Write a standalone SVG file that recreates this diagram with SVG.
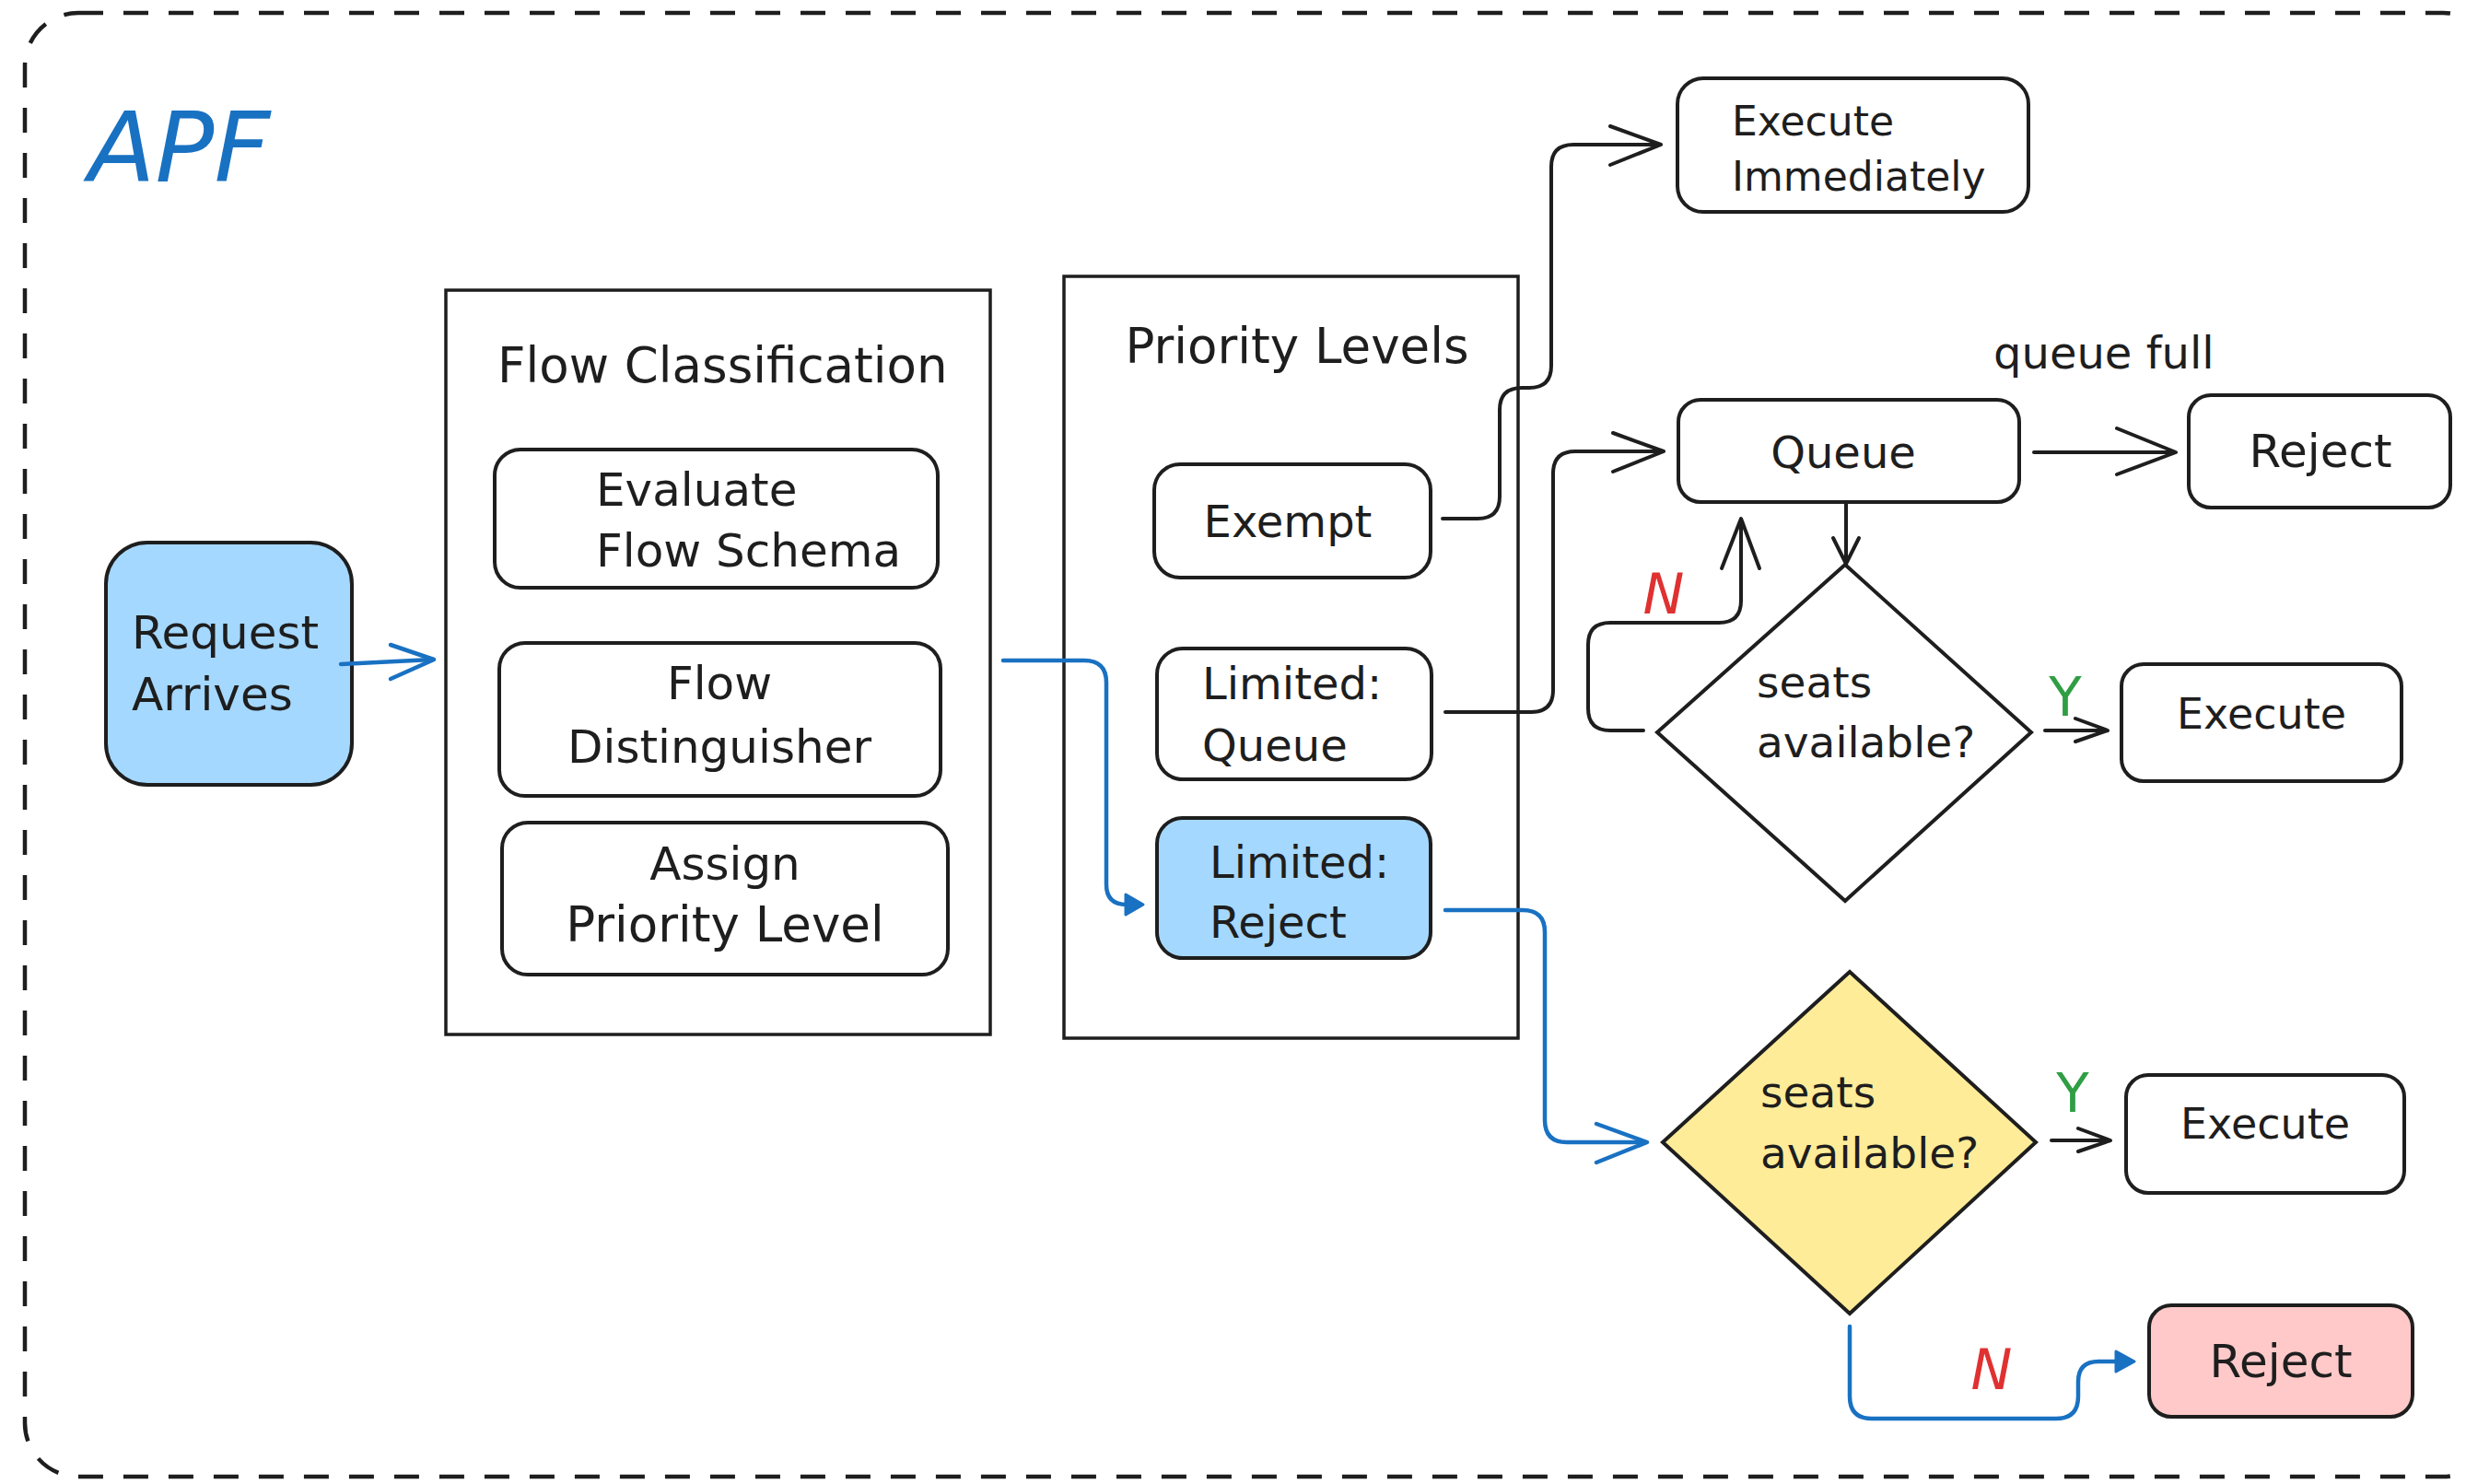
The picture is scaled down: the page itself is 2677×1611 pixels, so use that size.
<svg xmlns="http://www.w3.org/2000/svg" width="2677" height="1611" viewBox="0 0 2677 1611">
<style>
text{font-family:"DejaVu Sans","Liberation Sans",sans-serif;fill:#1e1e1e;font-size:50px}
.c{text-anchor:middle}
.t53{font-size:53px}
.t48{font-size:48px}
.t47{font-size:47px}
.t46{font-size:46px}
.t44{font-size:44px}
.yes{font-size:58px;fill:#2f9e44}
.no{font-size:60px;fill:#e03131;font-style:italic}
.box{fill:#fff;stroke:#1e1e1e;stroke-width:4}
.cont{fill:none;stroke:#1e1e1e;stroke-width:3.5}
.ln{fill:none;stroke:#1e1e1e;stroke-width:4;stroke-linecap:round;stroke-linejoin:round}
.bl{fill:none;stroke:#1971c2;stroke-width:4.5;stroke-linecap:round;stroke-linejoin:round}
.diam{stroke:#1e1e1e;stroke-width:4;stroke-linejoin:miter}
</style>
<rect x="27" y="14" width="2683" height="1589" rx="58" fill="none" stroke="#1e1e1e" stroke-width="4.5" stroke-dasharray="27 22"/>
<text x="96" y="197" style="font-size:106px;font-style:italic;fill:#1971c2">APF</text>

<g id="request-arrives">
<rect x="115" y="589" width="267" height="263" rx="45" class="box" style="fill:#a5d8ff"/>
<text x="143" y="704">Request</text>
<text x="143" y="771">Arrives</text>
</g>

<g id="flow-classification">
<rect x="484" y="315" width="591" height="808" class="cont"/>
<text x="540" y="415" class="t53">Flow Classification</text>
</g>
<g id="evaluate-flow-schema">
<rect x="537" y="488" width="481" height="150" rx="28" class="box"/>
<text x="647" y="549">Evaluate</text>
<text x="647" y="615">Flow Schema</text>
</g>
<g id="flow-distinguisher">
<rect x="542" y="698" width="479" height="166" rx="28" class="box"/>
<text x="781" y="759" class="c">Flow</text>
<text x="781" y="828" class="c">Distinguisher</text>
</g>
<g id="assign-priority-level">
<rect x="545" y="893" width="484" height="165" rx="28" class="box"/>
<text x="787" y="955" class="c">Assign</text>
<text x="787" y="1022" class="c t53">Priority Level</text>
</g>

<g id="priority-levels">
<rect x="1155" y="300" width="493" height="827" class="cont"/>
<text x="1408" y="394" class="c t53">Priority Levels</text>
</g>
<g id="exempt">
<rect x="1253" y="504" width="300" height="123" rx="28" class="box"/>
<text x="1398" y="583" class="c t48">Exempt</text>
</g>
<g id="limited-queue">
<rect x="1256" y="704" width="298" height="142" rx="28" class="box"/>
<text x="1305" y="759" class="t48">Limited:</text>
<text x="1305" y="826" class="t48">Queue</text>
</g>
<g id="limited-reject">
<rect x="1256" y="888" width="297" height="152" rx="28" class="box" style="fill:#a5d8ff"/>
<text x="1313" y="953" class="t48">Limited:</text>
<text x="1313" y="1018" class="t48">Reject</text>
</g>

<g id="execute-immediately">
<rect x="1821" y="85" width="381" height="145" rx="28" class="box"/>
<text x="1880" y="147" class="t44">Execute</text>
<text x="1880" y="207" class="t44">Immediately</text>
</g>
<g id="queue">
<rect x="1822" y="434" width="370" height="111" rx="24" class="box"/>
<text x="2001" y="508" class="c t48">Queue</text>
</g>
<g id="reject-full">
<rect x="2376" y="429" width="284" height="122" rx="24" class="box"/>
<text x="2519" y="507" class="c">Reject</text>
</g>
<g id="seats-1">
<polygon points="2003,613 2205,795 2003,978 1799,795" class="diam" fill="#fff"/>
<text x="1907" y="757" class="t47">seats</text>
<text x="1907" y="822" class="t47">available?</text>
</g>
<g id="execute-1">
<rect x="2303" y="721" width="304" height="127" rx="24" class="box"/>
<text x="2455" y="791" class="c t46">Execute</text>
</g>
<g id="seats-2">
<polygon points="2008,1055 2210,1240 2008,1426 1805,1240" class="diam" fill="#ffec99"/>
<text x="1911" y="1202" class="t47">seats</text>
<text x="1911" y="1268" class="t47">available?</text>
</g>
<g id="execute-2">
<rect x="2308" y="1167" width="302" height="128" rx="24" class="box"/>
<text x="2459" y="1236" class="c t46">Execute</text>
</g>
<g id="reject-2">
<rect x="2333" y="1417" width="286" height="121" rx="24" class="box" style="fill:#ffc9c9"/>
<text x="2476" y="1495" class="c">Reject</text>
</g>

<g id="connectors">
<path d="M370,721 L469,716" class="bl"/>
<path d="M424,700 L471,716 L424,737" class="bl"/>
<path d="M1089,717 L1177,717 Q1201,717 1201,741 L1201,960 Q1201,982 1223,982 L1236,982" class="bl"/>
<path d="M1222,971 L1241,982 L1222,993 Z" fill="#1971c2" stroke="#1971c2" stroke-width="3" stroke-linejoin="round"/>
<path d="M1566,563 L1604,563 Q1628,563 1628,539 L1628,445 Q1628,421 1652,421 L1660,421 Q1684,421 1684,397 L1684,181 Q1684,157 1708,157 L1801,157" class="ln"/>
<path d="M1748,137 L1803,157 L1748,179" class="ln"/>
<path d="M1569,773 L1662,773 Q1686,773 1686,749 L1686,514 Q1686,490 1710,490 L1804,490" class="ln"/>
<path d="M1751,470 L1806,490 L1751,512" class="ln"/>
<path d="M2208,491 L2360,491" class="ln"/>
<path d="M2298,465 L2362,491 L2298,515" class="ln"/>
<text x="2164" y="400" class="t48">queue full</text>
<path d="M2004,545 L2004,611" class="ln" stroke-width="3"/>
<path d="M1990,584 L2004,612 L2018,584" class="ln" stroke-width="3"/>
<path d="M2220,793 L2286,793" class="ln"/>
<path d="M2253,780 L2288,793 L2253,805" class="ln"/>
<text x="2242" y="777" class="c yes">Y</text>
<path d="M1784,793 L1748,793 Q1724,793 1724,769 L1724,700 Q1724,676 1748,676 L1866,676 Q1890,676 1890,652 L1890,566" class="ln"/>
<path d="M1869,617 L1890,563 L1910,617" class="ln"/>
<text x="1806" y="666" class="c no">N</text>
<path d="M1569,988 L1653,988 Q1677,988 1677,1012 L1677,1216 Q1677,1240 1701,1240 L1786,1240" class="bl"/>
<path d="M1733,1220 L1788,1240 L1733,1262" class="bl"/>
<path d="M2227,1238 L2289,1238" class="ln"/>
<path d="M2256,1225 L2291,1238 L2256,1250" class="ln"/>
<text x="2250" y="1207" class="c yes">Y</text>
<path d="M2008,1440 L2008,1516 Q2008,1540 2032,1540 L2232,1540 Q2256,1540 2256,1516 L2256,1500 Q2256,1478 2278,1478 L2312,1478" class="bl"/>
<path d="M2297,1467 L2317,1478 L2297,1489 Z" fill="#1971c2" stroke="#1971c2" stroke-width="3" stroke-linejoin="round"/>
<text x="2162" y="1508" class="c no">N</text>
</g>
</svg>
